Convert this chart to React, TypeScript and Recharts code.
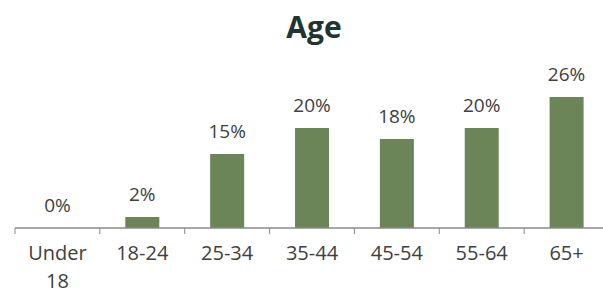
import { ComposedChart, Bar, Line, XAxis, YAxis, LabelList } from "recharts";

const BAR_COLOR = "#6b8458";
const TEXT_COLOR = "#404040";
const AXIS_COLOR = "#8a8a8a";
const FONT = "'Open Sans', 'Noto Sans', sans-serif";

const ageGroups = ["Under 18", "18-24", "25-34", "35-44", "45-54", "55-64", "65+"];
const shares = [0, 2.2, 14.8, 20.0, 17.8, 20.0, 26.2];

const data = ageGroups.map((age, i) => ({ age, share: shares[i] }));

function AgeTick(props: any) {
  const { x, y, payload, index, visibleTicksCount } = props;
  const label = String(payload.value);
  const half = Number(payload.offset) || 0;
  const axisY = y - 10;
  // only "Under 18" is too wide for its slot and wraps
  const lines = label.length > 6 ? label.split(" ") : [label];
  return (
    <g>
      <line x1={x - half} x2={x - half} y1={axisY} y2={axisY + 6} stroke={AXIS_COLOR} />
      {index === visibleTicksCount - 1 && (
        <line x1={x + half} x2={x + half} y1={axisY} y2={axisY + 6} stroke={AXIS_COLOR} />
      )}
      <text
        x={x}
        y={y}
        textAnchor="middle"
        fill={TEXT_COLOR}
        fontSize={20}
        fontFamily={FONT}
      >
        {lines.map((line, i) => (
          <tspan key={i} x={x} dy={i === 0 ? 22 : 28}>
            {line}
          </tspan>
        ))}
      </text>
    </g>
  );
}

export default function App() {
  return (
    <div
      style={{
        position: "absolute",
        left: 0,
        top: 0,
        width: 603,
        height: 295,
        overflow: "hidden",
        background: "#fff",
      }}
    >
      <div
        style={{
          position: "absolute",
          left: 264,
          top: 5,
          width: 100,
          textAlign: "center",
          fontFamily: FONT,
          fontWeight: 700,
          fontSize: 30,
          lineHeight: "44px",
          color: "#1f3530",
        }}
      >
        Age
      </div>
      <ComposedChart
        width={620}
        height={295}
        data={data}
        margin={{ top: 78, right: 11, left: 15, bottom: 0 }}
        barCategoryGap="30%"
      >
        <XAxis
          dataKey="age"
          height={67}
          axisLine={{ stroke: AXIS_COLOR, strokeWidth: 1.5 }}
          tickLine={false}
          tickMargin={10}
          tickSize={0}
          interval={0}
          tick={<AgeTick />}
        />
        <YAxis hide domain={[0, 30]} />
        <Bar dataKey="share" fill={BAR_COLOR} isAnimationActive={false} />
        <Line
          dataKey="share"
          stroke="none"
          dot={false}
          activeDot={false}
          isAnimationActive={false}
        >
          <LabelList
            dataKey="share"
            position="top"
            offset={16}
            fill={TEXT_COLOR}
            fontSize={19}
            fontFamily={FONT}
            formatter={(v: any) => `${Math.round(Number(v))}%`}
          />
        </Line>
      </ComposedChart>
    </div>
  );
}
